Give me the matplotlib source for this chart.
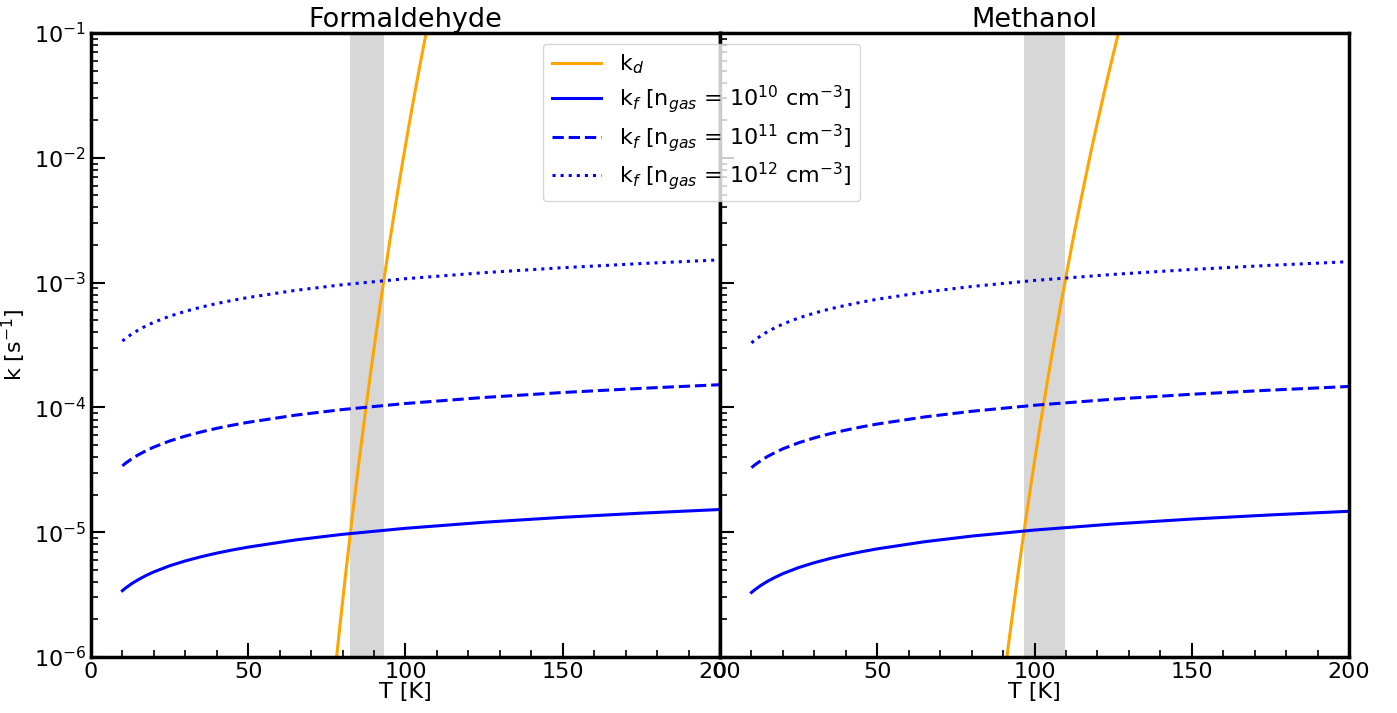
import matplotlib
matplotlib.use('Agg')
import numpy as np
import matplotlib.pyplot as plt
from matplotlib.ticker import MultipleLocator

font = {'size': 16}
plt.rc('font', **font)

# temperature grid for the formation rates [K]
T_f = [10, 11, 12, 13, 15, 17.5, 20, 25, 30, 35, 40, 45, 50, 65, 80, 100, 125, 150, 175, 200]

# k_f for the three gas densities [s^-1]
kf_h2co_1e10 = np.array([3.40, 3.57, 3.72, 3.88, 4.16, 4.50, 4.81, 5.38, 5.89, 6.36,
                         6.80, 7.21, 7.60, 8.67, 9.62, 10.75, 12.02, 13.17, 14.22, 15.21]) * 1e-6
kf_h2co_1e11 = np.array([3.40, 3.57, 3.72, 3.88, 4.16, 4.50, 4.81, 5.38, 5.89, 6.36,
                         6.80, 7.21, 7.60, 8.67, 9.62, 10.75, 12.02, 13.17, 14.22, 15.21]) * 1e-5
kf_h2co_1e12 = np.array([3.40, 3.57, 3.72, 3.88, 4.16, 4.50, 4.81, 5.38, 5.89, 6.36,
                         6.80, 7.21, 7.60, 8.67, 9.62, 10.75, 12.02, 13.17, 14.22, 15.21]) * 1e-4

kf_ch3oh_1e10 = np.array([3.29, 3.45, 3.60, 3.75, 4.03, 4.35, 4.66, 5.21, 5.70, 6.16,
                          6.58, 6.98, 7.36, 8.39, 9.31, 10.41, 11.64, 12.75, 13.76, 14.72]) * 1e-6
kf_ch3oh_1e11 = np.array([3.29, 3.45, 3.60, 3.75, 4.03, 4.35, 4.66, 5.21, 5.70, 6.16,
                          6.58, 6.98, 7.36, 8.39, 9.31, 10.41, 11.64, 12.75, 13.76, 14.72]) * 1e-5
kf_ch3oh_1e12 = np.array([3.29, 3.45, 3.60, 3.75, 4.03, 4.35, 4.66, 5.21, 5.70, 6.16,
                          6.58, 6.98, 7.36, 8.39, 9.31, 10.41, 11.64, 12.75, 13.76, 14.72]) * 1e-4

# desorption rates [s^-1]
T_d_h2co = [77, 79, 81, 83, 85, 87, 89, 91, 93, 95, 97, 99, 101, 103, 105, 107]
kd_h2co = [5.41e-7, 1.64e-6, 4.69e-6, 1.28e-5, 3.31e-5, 8.22e-5, 1.96e-4, 4.51e-4,
           1.00e-3, 2.14e-3, 4.45e-3, 8.95e-3, 1.76e-2, 3.36e-2, 6.25e-2, 0.114]

T_d_ch3oh = [90, 92, 94, 96, 98, 100, 102, 104, 106, 108, 110, 112, 114, 116, 118, 120,
             122, 124, 126, 128]
kd_ch3oh = [5.75e-7, 1.42e-6, 3.39e-6, 7.78e-6, 1.73e-5, 3.72e-5, 7.75e-5, 1.57e-4,
            3.10e-4, 5.98e-4, 1.12e-3, 2.07e-3, 3.72e-3, 6.56e-3, 1.14e-2, 1.93e-2,
            3.22e-2, 5.28e-2, 8.53e-2, 0.136]

# temperature window between the 1e10 and 1e12 crossings [K]
window_h2co = (82.3, 93.2)
window_ch3oh = (96.6, 109.6)

titles = ['Formaldehyde', 'Methanol']
labels = [r'k$_f$ [n$_{gas}$ = 10$^{10}$ cm$^{-3}$]',
          r'k$_f$ [n$_{gas}$ = 10$^{11}$ cm$^{-3}$]',
          r'k$_f$ [n$_{gas}$ = 10$^{12}$ cm$^{-3}$]']


def main():
    fig, axes = plt.subplots(1, 2, figsize=(13.97, 7.13), dpi=100, sharey=True)
    fig.subplots_adjust(left=0.0651, right=0.9657, top=0.9537, bottom=0.0785, wspace=0)

    panels = [
        (T_d_h2co, kd_h2co, [kf_h2co_1e10, kf_h2co_1e11, kf_h2co_1e12], window_h2co),
        (T_d_ch3oh, kd_ch3oh, [kf_ch3oh_1e10, kf_ch3oh_1e11, kf_ch3oh_1e12], window_ch3oh),
    ]
    styles = ['-', '--', ':']

    for ax, title, (T_d, kd, kfs, window) in zip(axes, titles, panels):
        ax.axvspan(window[0], window[1], color='#d7d7d7', lw=0, zorder=0)
        ax.plot(T_d, kd, color='orange', lw=2.2, label=r'k$_d$')
        for kf, ls, lab in zip(kfs, styles, labels):
            ax.plot(T_f, kf, color='blue', ls=ls, lw=2.2, label=lab)

        ax.set_yscale('log')
        ax.set_xlim(0, 200)
        ax.set_ylim(1e-6, 1e-1)
        ax.set_title(title, fontsize=19.5, pad=3)
        ax.set_xlabel('T [K]', labelpad=0)
        ax.xaxis.set_major_locator(MultipleLocator(50))
        ax.xaxis.set_minor_locator(MultipleLocator(10))
        ax.tick_params(which='both', direction='in', top=False, right=False)
        ax.tick_params(which='major', length=10, width=1.5)
        ax.tick_params(which='minor', length=5, width=1.2)
        for sp in ax.spines.values():
            sp.set_linewidth(2.5)

    axes[0].set_ylabel(r'k [s$^{-1}$]')

    handles, labs = axes[0].get_legend_handles_labels()
    fig.legend(handles, labs, loc='upper left', bbox_to_anchor=(543 / 1397, 1 - 44 / 713),
               borderaxespad=0, fontsize=16, handlelength=2.2, labelspacing=0.3)

    plt.savefig('out.png', dpi=100)


if __name__ == "__main__":
    main()
